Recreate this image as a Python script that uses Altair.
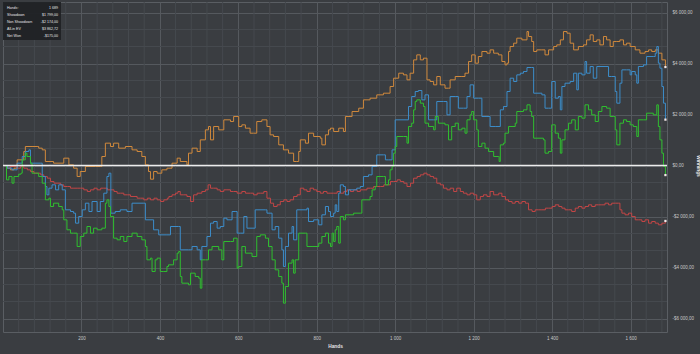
import altair as alt
import pandas as pd

# ---------------- data (hands, cumulative $) ----------------
ev_hands = [0,11,19,28,36,53,57,74,87,91,100,108,129,155,168,180,189,197,210,236,248,252,261,274,282,295,312,329,342,354,363,371,376,384,393,405,418,
            431,444,452,469,473,482,495,503,516,524,529,537,550,563,580,588,594,601,609,618,630,639,647,660,673,681,690,703,715,728,741,749,754,758,771,779,792,809,813,822,830,
            835,843,856,868,873,890,907,919,936,953,970,987,996,1009,1021,1030,1038,1047,1055,1064,1072,1081,1089,1098,1106,1115,1127,1136,1140,1153,1170,1178,1187,1195,1204,1212,1221,1234,1242,1251,
            1255,1263,1272,1280,1285,1289,1293,1302,1310,1323,1336,1340,1348,1353,1361,1374,1382,1391,1404,1412,1421,1429,1438,1446,1455,1467,1480,1488,1497,1505,1514,1522,1531,1539,1548,1556,1565,1573,1582,1590,1599,1612,1624,1637,1646,1654,1663,1671,1680,1689]
ev_values = [0,-105,-170,-105,222,549,745,745,745,680,614,157,92,288,26,-105,-431,-235,-39,-39,-39,353,876,745,876,680,745,614,549,353,26,-235,-536,-235,-301,-170,-105,
             92,288,157,26,484,680,549,1006,1398,1529,1006,1529,1398,1791,1725,1921,1921,1529,1595,1464,1268,1268,1725,1791,1529,1202,1137,810,614,484,157,157,549,1006,876,1268,1137,1072,810,1202,1398,
             1464,1333,1464,1333,1921,2117,2248,2575,2640,2771,2836,3098,3424,3620,3555,3359,3620,4143,4339,4143,4209,3359,3294,3163,3490,3163,3032,3032,3359,3490,3490,3620,4078,4339,4012,4274,4470,4405,4535,4405,
             4405,4339,4078,3947,4012,4470,4666,4797,4993,4927,5254,5058,4862,4470,4535,4535,4339,4535,4666,4731,4927,5254,5189,4797,4535,4666,4731,4927,5123,4862,4927,4731,5058,4927,4666,4862,4862,4927,4731,4797,4666,4535,4405,4470,4535,4470,4535,4405,4143,3862]

sd_hands = [0,11,23,36,49,57,66,70,95,100,108,112,117,125,134,142,151,159,172,180,185,193,202,210,219,227,240,248,257,265,270,275,286,299,316,329,359,363,380,384,397,418,
            427,448,452,473,482,495,503,507,520,529,537,546,554,563,571,584,592,597,605,614,622,635,643,669,673,686,694,703,711,715,720,728,737,741,749,775,779,792,805,813,822,830,
            835,843,847,851,856,860,868,873,881,902,911,919,932,941,949,953,970,975,983,992,1000,1030,1034,1042,1051,1059,1068,1076,1085,1098,1106,1123,1132,1140,1153,1161,1174,1183,1191,1200,1212,1221,1234,1242,1255,
            1268,1276,1285,1293,1302,1310,1319,1327,1336,1348,1353,1374,1382,1391,1399,1408,1416,1421,1425,1433,1446,1455,1463,1467,1476,1484,1488,1497,1505,1514,1535,1544,1552,1561,1565,1573,1578,1590,1599,1603,1612,1616,1620,1633,1641,1658,1663,1667,1671,1675,1680,1684,1689]
sd_values = [0,-105,-170,92,353,549,614,92,92,-431,-823,-1150,-889,-758,-954,-758,-954,-1738,-1804,-1869,-2261,-2000,-1738,-1477,-1804,-1412,-1804,-1412,-1085,-431,-301,-1869,-1804,-1738,-1804,-1477,-1477,-2130,-2130,-2522,-2719,-2719,
             -2392,-2392,-3307,-3307,-3176,-3307,-3699,-3176,-2784,-2261,-2196,-2457,-2392,-2065,-2130,-1804,-1804,-2653,-2653,-2000,-2457,-2457,-1738,-1738,-1869,-2522,-2392,-2849,-3307,-3960,-3176,-2653,-2392,-2915,-1738,-1673,-2196,-2130,-2326,-1934,-1608,-1804,
             -2000,-1869,-1542,-1804,-1085,-758,-823,-1150,-954,-889,-823,-431,-366,-39,-39,418,418,222,222,614,1791,1791,2313,2705,2902,2941,2575,2771,1791,1791,2509,2509,1987,2705,2705,2248,2248,2705,3163,2640,2640,1921,1921,1529,1529,
             2183,2313,2902,3424,3294,3555,3620,3686,3843,3843,2836,2771,2248,2248,3294,2640,2705,2183,3098,3228,3294,3620,2967,3620,3555,4078,3620,3882,3424,3882,3882,3490,3490,2902,2444,3228,3751,3751,3555,3686,3555,3228,3882,3947,4274,4274,4405,4666,4012,3816,3098,2444,1799]

nw_hands = [0,9,15,23,28,40,46,49,57,61,70,74,83,91,100,108,117,121,129,142,151,155,163,172,180,189,197,206,214,223,231,240,252,261,265,270,274,282,291,299,308,316,329,342,354,363,367,376,380,388,393,401,410,418,
            422,435,444,448,452,456,473,478,490,499,503,507,516,524,533,550,558,563,580,588,597,601,609,618,635,647,656,669,677,686,694,703,711,715,720,728,737,741,745,754,771,775,788,805,813,822,830,
            835,839,843,847,851,856,860,868,873,894,911,915,928,936,941,949,953,970,975,983,987,992,996,1000,1004,1021,1030,1034,1042,1047,1051,1055,1064,1072,1076,1085,1098,1102,1110,1127,1136,1144,1153,1161,1170,1178,1183,1191,1195,1200,1208,1212,1221,1229,1238,1251,
            1263,1265,1268,1276,1280,1289,1306,1310,1327,1336,1344,1348,1353,1378,1382,1391,1399,1408,1416,1421,1425,1433,1442,1450,1459,1467,1476,1484,1493,1501,1510,1518,1527,1539,1548,1556,1561,1565,1573,1582,1590,1599,1607,1616,1620,1633,1641,1658,1667,1671,1675,1680,1684,1689]
nw_values = [0,-562,-431,-693,-431,-340,-301,222,484,353,92,-301,-301,-431,-693,-1346,-1281,-1608,-1477,-1608,-1738,-2130,-2522,-2653,-2653,-3176,-2784,-2653,-2392,-2653,-2457,-2522,-2457,-1477,-1346,-1608,-2000,-2849,-2915,-2784,-2980,-2784,-2653,-2784,-2915,-3176,-3699,-3633,-4156,-3699,-3633,-4156,-4156,-3960,
             -3895,-3699,-3437,-3372,-4352,-4614,-4679,-4222,-4352,-4418,-4810,-3699,-3699,-3307,-3176,-3307,-3699,-2980,-2980,-2849,-4026,-3960,-3176,-3437,-3568,-2784,-2719,-2849,-3176,-3699,-4091,-4352,-4614,-5398,-4744,-3829,-3699,-4222,-3699,-2653,-2653,-3176,-3176,-3045,-2784,-2653,-3045,
             -3176,-2653,-2980,-2522,-2392,-3045,-2000,-2130,-1934,-1869,-1869,-1346,-1346,-1215,-954,-823,-431,-431,-758,-562,-170,-39,484,745,1137,1137,876,1529,1660,2183,2509,2575,2444,2313,1660,1529,1398,1921,1660,1595,1006,1529,1660,1398,1464,1268,1791,1987,2117,1791,1398,745,876,680,549,353,
             353,157,810,876,1268,1529,1660,2117,2183,2379,2117,1921,1072,1006,484,549,1595,1268,1072,484,1006,1398,1660,1791,1398,1921,1856,2379,2183,1987,1725,2117,2313,2248,1921,1921,1398,810,1660,1791,1725,1595,1529,1137,1791,1791,2052,1987,2379,1529,1006,484,-39,-375]

ns_hands = [0,11,19,28,36,45,53,62,70,79,87,96,104,113,121,130,138,147,155,164,172,181,189,198,206,215,223,232,240,249,257,266,274,283,291,300,308,317,325,334,342,351,359,368,376,385,393,402,410,419,
            423,431,440,446,452,461,469,478,482,486,495,507,516,523,529,537,546,554,563,571,580,588,597,609,618,631,639,648,656,665,673,682,690,699,707,716,724,732,741,750,758,767,775,783,792,800,809,817,826,834,
            843,852,860,869,877,886,894,903,911,920,928,937,945,954,962,971,979,988,996,1005,1013,1022,1030,1039,1047,1056,1064,1073,1081,1089,1098,1106,1115,1123,1132,1140,1149,1157,1166,1174,1183,1191,1200,1208,1217,1225,1234,1242,1251,
            1264,1272,1281,1289,1298,1306,1315,1323,1332,1340,1349,1357,1366,1374,1383,1391,1400,1408,1417,1425,1433,1442,1450,1459,1467,1476,1484,1493,1501,1510,1518,1527,1535,1544,1552,1561,1569,1573,1578,1586,1595,1603,1612,1620,1629,1637,1646,1654,1663,1671,1680,1689]
ns_values = [0,-105,-39,-39,-105,-39,-105,-170,-235,-301,-301,-366,-431,-497,-627,-693,-693,-758,-823,-823,-889,-889,-889,-889,-954,-1019,-954,-889,-954,-889,-889,-954,-954,-1019,-1085,-1085,-1150,-1150,-1215,-1215,-1281,-1281,-1346,-1281,-1346,-1281,-1346,-1412,-1346,-1281,
             -1215,-1150,-1085,-1019,-1150,-1150,-1215,-1412,-1412,-1150,-1085,-1019,-954,-758,-889,-889,-954,-1019,-954,-954,-1019,-1019,-1085,-1019,-1085,-1085,-1150,-1085,-1085,-1019,-1281,-1477,-1608,-1542,-1412,-1346,-1412,-1346,-1215,-1150,-889,-954,-1019,-889,-954,-1019,-1085,-1019,-1085,-1085,
             -1085,-1019,-1085,-1019,-954,-1019,-954,-1019,-954,-954,-889,-889,-823,-823,-823,-758,-758,-627,-627,-562,-627,-693,-823,-693,-497,-431,-366,-301,-366,-431,-497,-693,-758,-889,-954,-889,-1019,-889,-1019,-1085,-1150,-1085,-1150,-1346,-1215,-1150,-1215,-1019,-1150,
             -1085,-1215,-1346,-1412,-1477,-1412,-1477,-1412,-1477,-1738,-1804,-1738,-1738,-1738,-1673,-1673,-1608,-1542,-1608,-1673,-1738,-1738,-1804,-1673,-1608,-1673,-1608,-1542,-1608,-1542,-1542,-1542,-1477,-1542,-1477,-1477,-1477,-1738,-1869,-1934,-1869,-2000,-2130,-2130,-2196,-2130,-2261,-2196,-2261,-2326,-2261,-2174]

series_names = ["All-in EV", "Non Showdown", "Showdown", "Net Won"]
series_colors = ["#d0893c", "#c24646", "#3c8dca", "#2fbf2f"]
series_data = [(ev_hands, ev_values), (ns_hands, ns_values), (sd_hands, sd_values), (nw_hands, nw_values)]

x_ticks = [200, 400, 600, 800, 1000, 1200, 1400, 1600]
y_ticks = [-6000, -4000, -2000, 0, 2000, 4000, 6000]

legend_labels = ["Hands:", "Showdown", "Non Showdown", "All-in EV", "Net Won"]
legend_values = ["1 689", "$1 799,00", "-$2 174,00", "$3 862,72", "-$175,00"]

# ---------------- build tables ----------------
rows = []
for name, (hs, vs) in zip(series_names, series_data):
    assert len(hs) == len(vs), name
    for i, (h, v) in enumerate(zip(hs, vs)):
        rows.append({"series": name, "hand": h, "value": v, "idx": i})
df = pd.DataFrame(rows)
ends = pd.DataFrame([{"series": n, "hand": d[0][-1], "value": d[1][-1]} for n, d in zip(series_names, series_data)])

minor_x = pd.DataFrame({"hand": [h for h in range(40, 1693, 40) if h % 200 != 0]})
minor_y = pd.DataFrame({"value": [v for v in [k * 2000 / 3 for k in range(-9, 10)] if abs(v % 2000) > 1 and abs(v % 2000) < 1999]})

FONT = "Liberation Sans"
xs = alt.Scale(domain=[0, 1693], nice=False, zero=False)
ys = alt.Scale(domain=[-6529, 6412], nice=False, zero=False)

X_AX = alt.Axis(values=x_ticks, grid=True, gridColor="#55595e", gridWidth=1, domain=False, ticks=False,
                labelExpr="replace(format(datum.value, ','), ',', ' ')", labelFontSize=4.5, labelFont=FONT,
                labelColor="#c8c8c8", labelPadding=3, title="Hands", titleFont=FONT, titleFontSize=4.8,
                titleFontWeight="bold", titleColor="#e4e4e4", titleX=332, titleY=14, titleBaseline="middle",
                titleAlign="center")
Y_AX = alt.Axis(orient="right", values=y_ticks, grid=True, gridColor="#55595e", gridWidth=1, domain=False, ticks=False,
                labelExpr="(datum.value < 0 ? '-' : '') + '$' + replace(replace(format(abs(datum.value), ',.2f'), ',', ' '), '.', ',')",
                labelFontSize=4.5, labelFont=FONT, labelColor="#c8c8c8", labelPadding=5,
                title="Winnings", titleFont=FONT, titleFontSize=4.8, titleFontWeight="bold", titleColor="#e4e4e4",
                titleX=30, titleY=163.5, titleAngle=90, titleAlign="center", titleBaseline="middle")

gx = alt.Chart(minor_x).mark_rule(color="#45494e", strokeWidth=1).encode(x=alt.X("hand:Q", scale=xs, axis=X_AX))
gy = alt.Chart(minor_y).mark_rule(color="#45494e", strokeWidth=1).encode(y=alt.Y("value:Q", scale=ys, axis=Y_AX))

lines = alt.Chart(df).mark_line(strokeWidth=1, interpolate="step-after").encode(
    x=alt.X("hand:Q", scale=xs, axis=X_AX),
    y=alt.Y("value:Q", scale=ys, axis=Y_AX),
    color=alt.Color("series:N", scale=alt.Scale(domain=series_names, range=series_colors), legend=None),
    order=alt.Order("idx:Q"),
)

zero = alt.Chart(pd.DataFrame({"value": [0]})).mark_rule(color="#ececec", strokeWidth=1.5).encode(
    y=alt.Y("value:Q", scale=ys, axis=Y_AX))

dots = alt.Chart(ends).mark_square(size=5, color="#f3e8e8", opacity=1).encode(
    x=alt.X("hand:Q", scale=xs, axis=X_AX), y=alt.Y("value:Q", scale=ys, axis=Y_AX))

box = alt.Chart(pd.DataFrame({"a": [0]})).mark_rect(color="#202225", opacity=0.95).encode(
    x=alt.value(0), x2=alt.value(58), y=alt.value(0), y2=alt.value(38))

legend_layers = []
for i, (lab, val) in enumerate(zip(legend_labels, legend_values)):
    t = pd.DataFrame({"lab": [lab], "val": [val]})
    legend_layers.append(alt.Chart(t).mark_text(align="left", baseline="middle", fontSize=3.6, font=FONT,
                                                color="#e6e6e6").encode(text="lab:N", x=alt.value(4), y=alt.value(6 + 7 * i)))
    legend_layers.append(alt.Chart(t).mark_text(align="right", baseline="middle", fontSize=3.6, font=FONT,
                                                color="#e6e6e6").encode(text="val:N", x=alt.value(55), y=alt.value(6 + 7 * i)))

chart = alt.layer(gx, gy, lines, zero, dots, box, *legend_layers).properties(
    width=664, height=330,
    padding={"left": 3, "top": 2, "right": 33, "bottom": 22},
    autosize=alt.AutoSizeParams(type="none"),
    background="#3a3d41",
).configure_view(stroke="#5a5e63", strokeWidth=1, fill="#3a3d41")

chart.save("out.html", embed_options={"renderer": "svg", "actions": False})
